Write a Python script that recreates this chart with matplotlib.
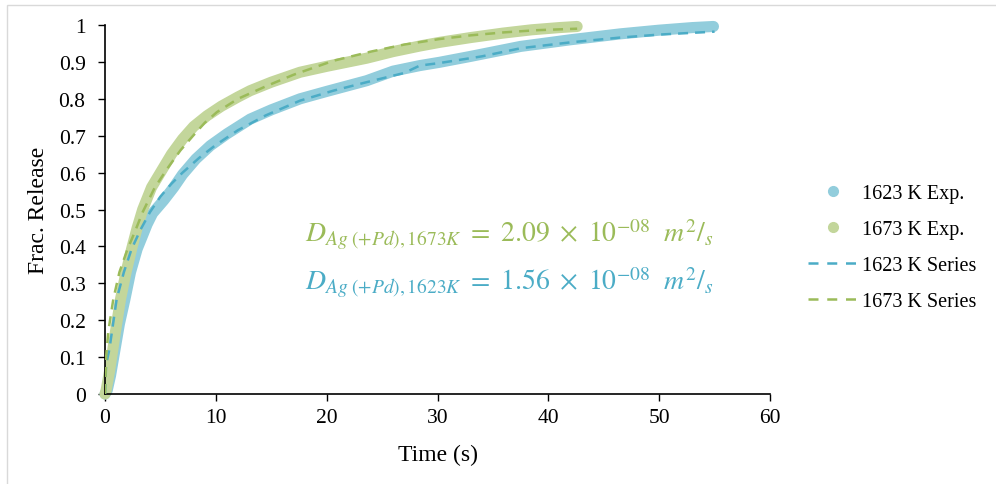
import matplotlib
matplotlib.use("Agg")
import matplotlib.pyplot as plt
from matplotlib.lines import Line2D
from matplotlib.patches import Rectangle

# measured fractional release, 1623 K
t_exp_1623 = [0, 0.2, 0.5, 0.9, 1.3, 1.8, 2.3, 2.9, 3.4, 3.8, 4.3, 5.3, 6.2, 7.0, 8.2,
              9.5, 11.0, 13.1, 15.0, 17.6, 20.0, 23.6, 26.0, 28.4, 30.2, 33.0, 37.5,
              42.0, 46.5, 50.0, 53.0, 54.9]
f_exp_1623 = [0, 0.01, 0.05, 0.12, 0.19, 0.257, 0.33, 0.393, 0.43, 0.46, 0.49, 0.525,
              0.56, 0.595, 0.637, 0.673, 0.705, 0.745, 0.77, 0.80, 0.82, 0.849, 0.875,
              0.89, 0.899, 0.915, 0.942, 0.96, 0.976, 0.986, 0.993, 0.996]

# measured fractional release, 1673 K
t_exp_1673 = [0, 0.1, 0.4, 0.7, 1.0, 1.4, 1.9, 2.4, 2.9, 3.4, 4.2, 5.2, 6.0, 7.0, 8.0,
              9.2, 10.5, 12.0, 13.1, 15.0, 17.6, 20.0, 23.6, 26.0, 28.4, 30.2, 33.0,
              35.9, 38.5, 41.0, 42.6]
f_exp_1673 = [0, 0.01, 0.06, 0.12, 0.18, 0.257, 0.33, 0.393, 0.45, 0.50, 0.56, 0.61,
              0.65, 0.691, 0.725, 0.754, 0.78, 0.805, 0.822, 0.845, 0.872, 0.888, 0.91,
              0.928, 0.943, 0.953, 0.966, 0.978, 0.987, 0.993, 0.996]

# series solution fits
t_fit_1623 = [0, 0.1, 0.4, 1.05, 1.7, 2.4, 3.2, 4.06, 5.0, 6.0, 7.0, 8.5, 10.0, 12.0,
              14.5, 17.6, 20.6, 23.6, 27.0, 28.4, 30.2, 34.0, 37.5, 42.0, 46.5, 50.0, 55.0]
f_fit_1623 = [0, 0.08, 0.122, 0.257, 0.33, 0.393, 0.445, 0.493, 0.535, 0.57, 0.60, 0.64,
              0.675, 0.715, 0.755, 0.795, 0.822, 0.845, 0.87, 0.89, 0.897, 0.915, 0.937,
              0.953, 0.966, 0.974, 0.982]

t_fit_1673 = [0, 0.1, 0.3, 0.75, 1.3, 2.0, 2.7, 3.4, 4.5, 5.6, 6.8, 7.95, 9.0, 10.1,
              12.0, 14.6, 17.0, 20.6, 24.0, 27.0, 30.2, 33.0, 36.0, 39.0, 42.6]
f_fit_1673 = [0, 0.1, 0.17, 0.257, 0.33, 0.39, 0.44, 0.493, 0.56, 0.61, 0.66, 0.70,
              0.735, 0.764, 0.80, 0.835, 0.865, 0.903, 0.928, 0.947, 0.962, 0.972, 0.98,
              0.986, 0.99]

labels = ["1623 K Exp.", "1673 K Exp.", "1623 K Series", "1673 K Series"]
x_ticks = [0, 10, 20, 30, 40, 50, 60]
y_ticks = [0, 0.1, 0.2, 0.3, 0.4, 0.5, 0.6, 0.7, 0.8, 0.9, 1]
y_ticklabels = ["0", "0.1", "0.2", "0.3", "0.4", "0.5", "0.6", "0.7", "0.8", "0.9", "1"]

c_exp_1623 = "#92CDDC"
c_exp_1673 = "#C3D69B"
c_fit_1623 = "#4BACC6"
c_fit_1673 = "#9BBB59"

plt.rcParams["font.family"] = ["Liberation Serif", "DejaVu Serif"]
plt.rcParams["mathtext.fontset"] = "stix"

fig = plt.figure(figsize=(9.96, 4.85), dpi=100)
ax = fig.add_axes([105 / 996, 1 - 395 / 485, 665 / 996, 369 / 485])

# light frame around the chart area
fig.patches.append(Rectangle((7 / 996, -0.1), 2, 1.1 - 6 / 485, transform=fig.transFigure,
                             fill=False, edgecolor="#D9D9D9", lw=1))

band = dict(lw=8, solid_capstyle="round", solid_joinstyle="round", clip_on=False)
ax.plot(t_exp_1623, f_exp_1623, color=c_exp_1623, zorder=2, **band)
ax.plot(t_exp_1673, f_exp_1673, color=c_exp_1673, zorder=2, **band)
ax.plot(t_fit_1623, f_fit_1623, color=c_fit_1623, lw=1.8, dashes=(4, 2.8), zorder=3)
ax.plot(t_fit_1673, f_fit_1673, color=c_fit_1673, lw=1.8, dashes=(4, 2.8), zorder=3)

ax.set_xlim(0, 60)
ax.set_ylim(0, 1)
ax.set_xticks(x_ticks)
ax.set_yticks(y_ticks)
ax.set_yticklabels(y_ticklabels)
for s in ["top", "right"]:
    ax.spines[s].set_visible(False)
for s in ["left", "bottom"]:
    ax.spines[s].set_linewidth(1.2)
ax.tick_params(direction="out", length=5, width=1, labelsize=15.5)
ax.tick_params(axis="y", pad=9)
ax.tick_params(axis="x", pad=5)
ax.set_xlabel("Time (s)", fontsize=17, labelpad=12)
ax.set_ylabel("Frac. Release", fontsize=17, labelpad=7)

ax.text(18.05, 0.434,
        r"$D_{Ag\ (+Pd),1673K}\ =\ 2.09\ \times\ 10^{-08}\ \ m^2/_s$",
        color=c_fit_1673, fontsize=20, va="center", ha="left")
ax.text(18.05, 0.304,
        r"$D_{Ag\ (+Pd),1623K}\ =\ 1.56\ \times\ 10^{-08}\ \ m^2/_s$",
        color=c_fit_1623, fontsize=20, va="center", ha="left")

handles = [
    Line2D([], [], ls="none", marker="o", markersize=7, color=c_exp_1623),
    Line2D([], [], ls="none", marker="o", markersize=7, color=c_exp_1673),
    Line2D([], [], lw=1.8, dashes=(4, 3.5), color=c_fit_1623),
    Line2D([], [], lw=1.8, dashes=(4, 3.5), color=c_fit_1673),
]
fig.legend(handles, labels, loc="center left", bbox_to_anchor=(808 / 996, 1 - 248.5 / 485),
           frameon=False, fontsize=14.5, handlelength=2.5, handletextpad=0.2,
           labelspacing=0.85, borderpad=0, borderaxespad=0)

fig.savefig("out.png", dpi=100)
